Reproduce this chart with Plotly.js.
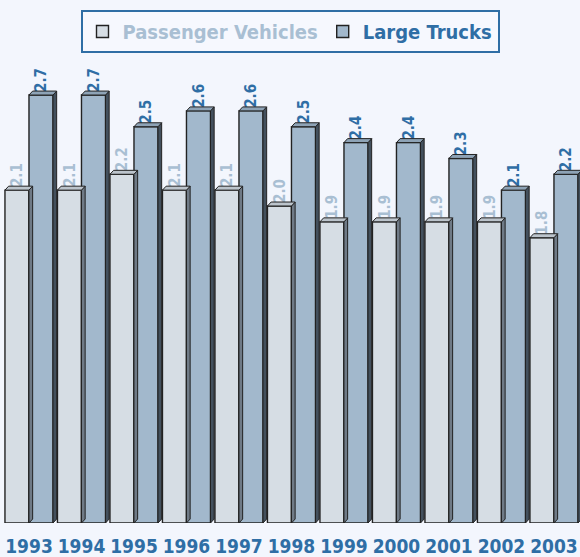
<!DOCTYPE html>
<html><head><meta charset="utf-8">
<script src="https://cdn.plot.ly/plotly-3.0.1.min.js"></script>
<style>body{margin:0;background:#f3f6fd}#c{width:580px;height:557px}</style>
</head><body><div id="c"></div>
<script>
const years = [1993,1994,1995,1996,1997,1998,1999,2000,2001,2002,2003];
const passenger = [2.1,2.1,2.2,2.1,2.1,2.0,1.9,1.9,1.9,1.9,1.8];
const trucks = [2.7,2.7,2.5,2.6,2.6,2.5,2.4,2.4,2.3,2.1,2.2];

const FONT = "'DejaVu Sans Condensed', 'Liberation Sans Narrow', sans-serif";
const bargap = 0.085;
const bw = (1 - bargap) / 2;
const dx = 0.07, dy = 0.025;

const shapes = [];
function depth(vals, off, sideCol, topCol) {
  vals.forEach((v, i) => {
    const l = years[i] + off - bw / 2, r = years[i] + off + bw / 2;
    shapes.push({type:'path', xref:'x', yref:'y', layer:'above',
      path:`M${r},0 L${r+dx},${dy} L${r+dx},${v+dy} L${r},${v} Z`,
      fillcolor:sideCol, line:{color:'#222', width:1}});
    shapes.push({type:'path', xref:'x', yref:'y', layer:'above',
      path:`M${l},${v} L${l+dx},${v+dy} L${r+dx},${v+dy} L${r},${v} Z`,
      fillcolor:topCol, line:{color:'#222', width:1}});
  });
}
depth(passenger, -bw/2, '#6f7a86', '#bcc4cc');
depth(trucks, bw/2, '#43505d', '#8ea3b6');

const data = [
  {type:'bar', x:years, y:passenger, name:'<span style="color:#a9bfd3">Passenger Vehicles</span>',
   marker:{color:'#d6dde4', line:{color:'#222', width:1.4}},
   text:passenger.map(v=>v.toFixed(1)), textposition:'outside', textangle:-90,
   textfont:{family:FONT, size:18, color:'#a9bfd3', weight:'bold'}, cliponaxis:false},
  {type:'bar', x:years, y:trucks, name:'<span style="color:#2f6ea5">Large Trucks</span>',
   marker:{color:'#a2b8cc', line:{color:'#222', width:1.4}},
   text:trucks.map(v=>v.toFixed(1)), textposition:'outside', textangle:-90,
   textfont:{family:FONT, size:18, color:'#2f6ea5', weight:'bold'}, cliponaxis:false}
];

const layout = {
  width:580, height:557,
  margin:{l:0, r:0, t:60, b:34},
  paper_bgcolor:'#f3f6fd', plot_bgcolor:'#f3f6fd',
  barmode:'group', bargap:bargap, bargroupgap:0,
  showlegend:true,
  legend:{orientation:'h', x:0.5, xanchor:'center', y:1.108, yanchor:'top',
    bgcolor:'#f6f8fe', bordercolor:'#2f6ea5', borderwidth:2,
    font:{family:FONT, size:20, weight:'bold', color:'#2f6ea5'},
    itemwidth:30, tracegroupgap:0},
  xaxis:{range:[1992.448, 2003.496], tickvals:years, ticktext:years.map(String),
    showgrid:false, zeroline:false, showline:false, ticks:'', ticklabelstandoff:10,
    tickfont:{family:FONT, size:19, weight:'bold', color:'#2f6ea5'}},
  yaxis:{range:[0, 2.921], visible:false, showgrid:false, zeroline:false},
  shapes:shapes
};
Plotly.newPlot('c', data, layout, {displayModeBar:false, staticPlot:true});
</script></body></html>
